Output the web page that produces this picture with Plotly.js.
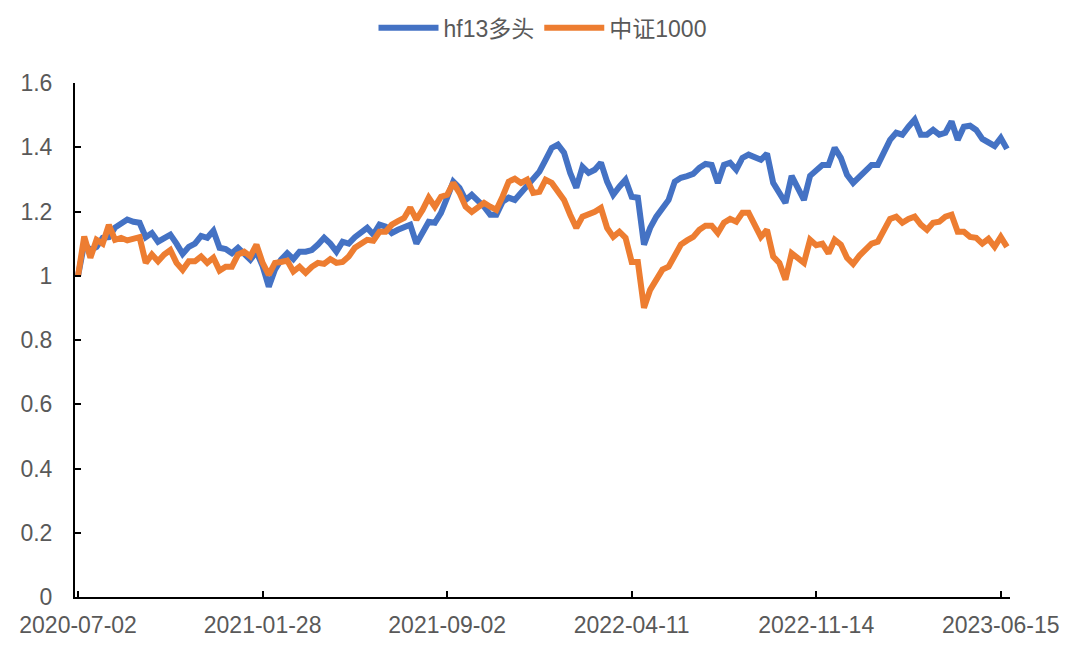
<!DOCTYPE html>
<html>
<head>
<meta charset="utf-8">
<script src="https://cdn.plot.ly/plotly-3.0.1.min.js"></script>
<style>html,body{margin:0;padding:0;background:#fff;}#chart{width:1074px;height:645px;}</style>
</head>
<body>
<div id="chart"></div>
<script>
// Weekly index positions (0..151); labelled dates every 30 points
const tickLabels = ['2020-07-02','2021-01-28','2021-09-02','2022-04-11','2022-11-14','2023-06-15'];
const tickIndex = [0, 30, 60, 90, 120, 150];
const seriesNames = ['hf13多头', '中证1000'];

const hf13 = [
  1.00, 1.10, 1.08, 1.09, 1.118, 1.12, 1.15, 1.165, 1.175, 1.168,
  1.165, 1.12, 1.133, 1.106, 1.118, 1.128, 1.10, 1.068, 1.09, 1.10,
  1.124, 1.118, 1.14, 1.087, 1.083, 1.07, 1.087, 1.07, 1.05, 1.075,
  1.03, 0.966, 1.019, 1.05, 1.07, 1.052, 1.075, 1.075, 1.08, 1.097,
  1.118, 1.10, 1.075, 1.106, 1.10, 1.12, 1.133, 1.149, 1.128, 1.159,
  1.153, 1.133, 1.143, 1.15, 1.159, 1.10, 1.133, 1.168, 1.165, 1.196,
  1.243, 1.293, 1.274, 1.236, 1.252, 1.236, 1.215, 1.19, 1.19, 1.23,
  1.243, 1.236, 1.258, 1.277, 1.305, 1.324, 1.361, 1.398, 1.408, 1.383,
  1.32, 1.274, 1.339, 1.32, 1.33, 1.352, 1.293, 1.252, 1.277, 1.299,
  1.246, 1.243, 1.097, 1.149, 1.184, 1.211, 1.236, 1.293, 1.305, 1.31,
  1.317, 1.336, 1.348, 1.345, 1.289, 1.345, 1.352, 1.33, 1.367, 1.377,
  1.37, 1.361, 1.38, 1.289, 1.258, 1.227, 1.311, 1.277, 1.236, 1.311,
  1.33, 1.345, 1.345, 1.398, 1.367, 1.314, 1.289, 1.308, 1.325, 1.345,
  1.345, 1.386, 1.423, 1.445, 1.439, 1.464, 1.486, 1.439, 1.439, 1.454,
  1.439, 1.445, 1.48, 1.423, 1.464, 1.467, 1.454, 1.426, 1.417, 1.404,
  1.429, 1.395
];

const csi1000 = [
  1.00, 1.122, 1.056, 1.112, 1.10, 1.158, 1.112, 1.118, 1.11, 1.115,
  1.12, 1.04, 1.066, 1.045, 1.066, 1.08, 1.04, 1.018, 1.045, 1.045,
  1.06, 1.04, 1.056, 1.016, 1.028, 1.028, 1.066, 1.075, 1.06, 1.097,
  1.04, 1.003, 1.04, 1.043, 1.047, 1.013, 1.028, 1.009, 1.028, 1.04,
  1.037, 1.052, 1.04, 1.043, 1.06, 1.087, 1.10, 1.112, 1.109, 1.137,
  1.137, 1.159, 1.17, 1.18, 1.212, 1.175, 1.205, 1.243, 1.215, 1.246,
  1.252, 1.289, 1.258, 1.215, 1.199, 1.211, 1.227, 1.215, 1.205, 1.246,
  1.293, 1.302, 1.289, 1.299, 1.258, 1.261, 1.299, 1.289, 1.261, 1.236,
  1.19, 1.149, 1.184, 1.19, 1.199, 1.211, 1.149, 1.121, 1.137, 1.118,
  1.043, 1.043, 0.90, 0.956, 0.988, 1.019, 1.028, 1.066, 1.097, 1.11,
  1.121, 1.143, 1.156, 1.156, 1.133, 1.165, 1.177, 1.168, 1.196, 1.196,
  1.159, 1.121, 1.143, 1.06, 1.04, 0.988, 1.07, 1.056, 1.04, 1.112,
  1.095, 1.10, 1.07, 1.112, 1.097, 1.056, 1.037, 1.062, 1.08, 1.10,
  1.106, 1.143, 1.177, 1.184, 1.165, 1.177, 1.184, 1.159, 1.143, 1.165,
  1.168, 1.184, 1.19, 1.137, 1.137, 1.121, 1.118, 1.10, 1.115, 1.09,
  1.121, 1.09
];

const yTickVals = [0, 0.2, 0.4, 0.6, 0.8, 1.0, 1.2, 1.4, 1.6];
const yTickText = ['0', '0.2', '0.4', '0.6', '0.8', '1', '1.2', '1.4', '1.6'];

const idx = hf13.map((_, i) => i);
const FONT = 'Liberation Sans, Arial, "Noto Sans CJK SC", sans-serif';

const traces = [
  {x: idx, y: hf13, type: 'scatter', mode: 'lines', name: seriesNames[0],
   line: {color: '#4472C4', width: 6, shape: 'linear'}},
  {x: idx, y: csi1000, type: 'scatter', mode: 'lines', name: seriesNames[1],
   line: {color: '#ED7D31', width: 6, shape: 'linear'}}
];

const layout = {
  width: 1074, height: 645,
  margin: {l: 75, r: 64, t: 83, b: 48, autoexpand: false},
  paper_bgcolor: '#ffffff', plot_bgcolor: '#ffffff',
  font: {family: FONT, size: 23, color: '#595959'},
  showlegend: true,
  legend: {orientation: 'h', x: 0.5, xanchor: 'center',
           yref: 'container', y: 0.957, yanchor: 'middle',
           font: {family: FONT, size: 23, color: '#595959'}, itemwidth: 60},
  xaxis: {
    range: [-0.5, 151.5], showgrid: false, zeroline: false,
    showline: true, linecolor: '#000000', linewidth: 2,
    ticks: 'inside', ticklen: 6, tickwidth: 2, tickcolor: '#000000',
    tickvals: tickIndex, ticktext: tickLabels,
    tickfont: {family: FONT, size: 23, color: '#595959'},
    ticklabelstandoff: 6, fixedrange: true
  },
  yaxis: {
    range: [0, 1.6], showgrid: false, zeroline: false,
    showline: true, linecolor: '#000000', linewidth: 2,
    ticks: 'inside', ticklen: 6, tickwidth: 2, tickcolor: '#000000',
    tickvals: yTickVals, ticktext: yTickText,
    tickfont: {family: FONT, size: 23, color: '#595959'},
    ticklabelstandoff: 16, fixedrange: true
  }
};

Plotly.newPlot('chart', traces, layout, {displayModeBar: false, staticPlot: true});
</script>
</body>
</html>
